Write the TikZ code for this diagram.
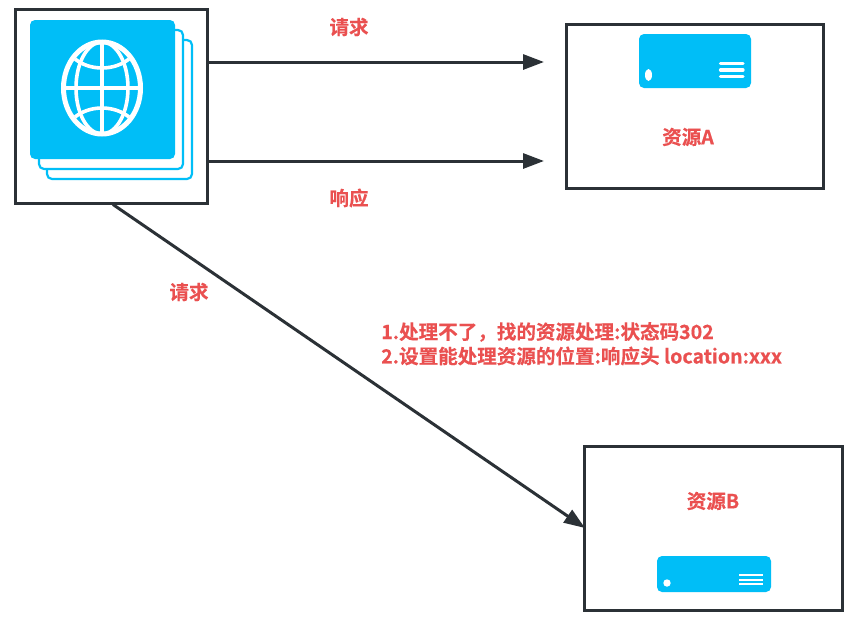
\documentclass[tikz,border=0pt]{standalone}
\usepackage{fontspec}
\setmainfont{Noto Sans CJK SC}[BoldFont={Noto Sans CJK SC Bold},BoldFeatures={FakeBold=0.4}]
\usetikzlibrary{arrows.meta}
\definecolor{skyb}{HTML}{00BEF7}
\definecolor{inkd}{HTML}{2B3136}
\definecolor{redt}{HTML}{EA5050}
\tikzset{
  frame/.style={draw=inkd,line width=3pt,fill=white,inner sep=0pt},
  link/.style={draw=inkd,line width=3pt,-{Stealth[length=21pt,width=15pt,inset=0pt]}},
  lab/.style={text=redt,font=\fontsize{19.55}{23}\selectfont\bfseries,inner sep=0pt},
  card/.style={draw=skyb,line width=2.2pt,fill=white,rounded corners=5pt},
  globe/.style={draw=white,line width=3.6pt},
}
\begin{document}
\begin{tikzpicture}[x=1pt,y=-1pt]
\useasboundingbox (0,0) rectangle (854,630);
\fill[white] (0,0) rectangle (854,630);
% boxes
\node[frame,minimum width=192pt,minimum height=194pt] (client) at (111.7,106.7) {};
\node[frame,minimum width=257pt,minimum height=164pt] (resA) at (695.2,106.7) {};
\node[frame,minimum width=258pt,minimum height=164pt] (resB) at (713.7,528.7) {};
% stacked cards
\draw[card] (47,40) rectangle (192,179);
\draw[card] (39,30) rectangle (183,169);
\fill[skyb,rounded corners=5pt] (30,20) rectangle (175,159);
% globe
\begin{scope}[shift={(102,88)}]
  \draw[white,line width=5pt] (0,0) ellipse [x radius=38.5,y radius=46];
  \draw[globe] (0,0) ellipse [x radius=26,y radius=46];
  \draw[globe] (0,-46) -- (0,46);
  \draw[globe] (-39,0) -- (39,0);
  \draw[globe] (-27,-29) .. controls (-12,-17) and (12,-17) .. (27,-29);
  \draw[globe] (-27,29) .. controls (-12,17) and (12,17) .. (27,29);
\end{scope}
% server A
\fill[skyb,rounded corners=5pt] (639,34) rectangle (751,88);
\fill[white] (648.5,75) ellipse [x radius=3.5,y radius=6];
\foreach \yy in {63.5,70,76.5}
  \draw[white,line width=3.2pt,line cap=round] (720.5,\yy) -- (743,\yy);
% server B
\fill[skyb,rounded corners=5pt] (657,556) rectangle (771,592);
\fill[white] (667,583) circle (3.7);
\foreach \yy in {575,579.5,584}
  \draw[white,line width=2pt] (739,\yy) -- (763,\yy);
% connectors
\coordinate (c1) at (client.east |- 0,62);
\coordinate (c2) at (client.east |- 0,161);
\coordinate (a1) at (544,62);
\coordinate (a2) at (544,161);
\coordinate (c3) at (113,204.5);
\coordinate (b1) at (585,528);
\draw[link] (c1) -- (a1);
\draw[link] (c2) -- (a2);
\draw[link] (c3) -- (b1);
% labels
\node[lab] (l1) at (349,27) {请求};
\node[lab] (l2) at (349,198) {响应};
\node[lab] (l3) at (189,292) {请求};
\node[lab] (l4) at (688,137) {资源A};
\node[lab] (l5) at (713,501) {资源B};
\node[lab,anchor=west] (l6) at (381,332) {1.处理不了，找的资源处理:状态码302};
\node[lab,anchor=west] (l7) at (381,356) {2.设置能处理资源的位置:响应头 location:xxx};
\end{tikzpicture}
\end{document}
